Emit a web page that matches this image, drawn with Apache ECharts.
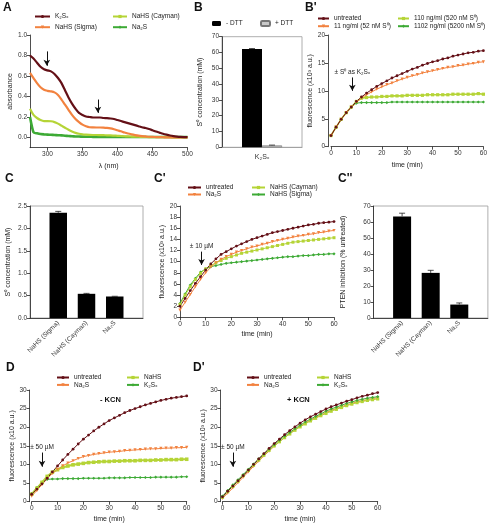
<!DOCTYPE html>
<html><head><meta charset="utf-8">
<script src="https://cdn.jsdelivr.net/npm/echarts@6/dist/echarts.min.js"></script>
<style>html,body{margin:0;padding:0;background:#fff}#c{width:490px;height:526px}</style>
</head><body><div id="c"></div>
<script>
// ---------- DATA ----------
// Panel A: absorbance spectra
const wavelengthNm = [275,280,285,290,295,300,305,310,315,320,325,330,335,340,345,350,355,360,365,370,375,380,385,390,395,400,405,410,415,420,425,430,435,440,445,450,455,460,465,470,475,480,485,490,495,500];
const absK2Sx = [0.80,0.77,0.73,0.69,0.665,0.655,0.645,0.62,0.58,0.53,0.46,0.39,0.33,0.28,0.24,0.22,0.205,0.20,0.195,0.195,0.195,0.19,0.188,0.185,0.18,0.17,0.16,0.15,0.14,0.13,0.12,0.11,0.10,0.092,0.082,0.07,0.058,0.047,0.036,0.027,0.019,0.013,0.009,0.006,0.004,0.003];
const absNaHSSigma = [0.63,0.58,0.53,0.49,0.465,0.455,0.45,0.44,0.415,0.37,0.32,0.27,0.22,0.18,0.15,0.125,0.11,0.10,0.098,0.097,0.097,0.096,0.093,0.088,0.08,0.07,0.06,0.048,0.038,0.03,0.023,0.017,0.013,0.01,0.007,0.005,0.004,0.003,0.002,0.001,0.001,0,0,0,0,0];
const absNaHSCayman = [0.28,0.22,0.19,0.17,0.16,0.16,0.158,0.15,0.135,0.115,0.095,0.075,0.058,0.045,0.036,0.03,0.027,0.025,0.024,0.024,0.023,0.022,0.021,0.02,0.018,0.016,0.014,0.012,0.01,0.009,0.008,0.007,0.006,0.005,0.004,0.004,0.003,0.003,0.002,0.002,0.002,0.001,0.001,0.001,0.001,0.001];
const absNa2S = [0.20,0.05,0.04,0.033,0.03,0.028,0.026,0.024,0.022,0.02,0.017,0.014,0.012,0.01,0.009,0.008,0.007,0.007,0.006,0.006,0.006,0.005,0.005,0.005,0.005,0.005,0.005,0.005,0.005,0.005,0.005,0.005,0.005,0.005,0.005,0.005,0.005,0.005,0.005,0.005,0.005,0.005,0.005,0.005,0.005,0.005];

// Panel B: S0 concentration
const bCategories = ['K₂Sₓ'];
const bMinusDTT = [62.2];
const bMinusDTTErr = [0.3];
const bPlusDTT = [1.2];
const bPlusDTTErr = [0.2];

// Time axis for kinetic panels
const timeMin = [0,2,4,6,8,10,12,14,16,18,20,22,24,26,28,30,32,34,36,38,40,42,44,46,48,50,52,54,56,58,60];

// Panel B'
const bpUntreated = [2.0,3.5,4.9,6.1,7.1,8.1,8.9,9.6,10.2,10.8,11.3,11.8,12.3,12.7,13.1,13.5,13.9,14.2,14.6,14.9,15.2,15.4,15.7,15.9,16.2,16.4,16.6,16.8,16.9,17.1,17.2];
const bp11 = [2.0,3.5,4.9,6.1,7.1,8.0,8.7,9.3,9.8,10.3,10.7,11.1,11.4,11.8,12.1,12.4,12.7,12.9,13.2,13.4,13.6,13.8,14.0,14.2,14.3,14.5,14.6,14.8,14.9,15.1,15.2];
const bp110 = [2.0,3.5,4.9,6.1,7.1,8.1,8.7,8.8,8.9,8.9,9.0,9.0,9.1,9.1,9.1,9.2,9.2,9.2,9.2,9.3,9.3,9.3,9.3,9.3,9.4,9.4,9.4,9.4,9.4,9.5,9.4];
const bp1102 = [2.0,3.5,4.9,6.1,7.1,7.8,7.9,7.9,7.9,7.9,7.9,7.9,8.0,8.0,8.0,8.0,8.0,8.0,8.0,8.0,8.0,8.0,8.0,8.0,8.0,8.0,8.0,8.0,8.0,8.0,8.0];

// Panel C
const cCategories = ['NaHS (Sigma)','NaHS (Cayman)','Na₂S'];
const cValues = [2.35,0.54,0.48];
const cErrors = [0.03,0.01,0.005];

// Panel C'
const cpUntreated = [2.0,3.4,4.8,6.1,7.3,8.5,9.6,10.5,11.3,11.8,12.3,12.8,13.2,13.6,14.0,14.3,14.6,14.9,15.2,15.4,15.6,15.8,16.0,16.2,16.4,16.6,16.7,16.9,17.0,17.1,17.2];
const cpNa2S = [1.3,2.7,4.1,5.5,6.8,8.0,9.0,9.8,10.4,10.9,11.3,11.7,12.0,12.3,12.6,12.8,13.1,13.3,13.6,13.8,14.0,14.2,14.4,14.6,14.7,14.9,15.0,15.2,15.3,15.5,15.6];
const cpCayman = [2.3,4.0,5.5,6.8,7.9,8.7,9.3,9.8,10.2,10.6,10.9,11.2,11.5,11.7,11.9,12.1,12.3,12.5,12.7,12.9,13.1,13.3,13.5,13.6,13.7,13.8,13.9,14.0,14.1,14.2,14.3];
const cpSigma = [2.5,4.2,5.8,7.0,8.1,8.7,9.1,9.3,9.5,9.7,9.8,9.9,10.0,10.1,10.2,10.3,10.4,10.5,10.6,10.7,10.8,10.9,10.9,11.0,11.1,11.1,11.2,11.3,11.3,11.4,11.4];

// Panel C''
const c2Values = [63.5,28.2,8.4];
const c2Errors = [2.0,1.6,1.0];

// Panel D (- KCN)
const dUntreated = [2.0,3.4,4.8,6.3,8.0,9.6,11.2,12.7,14.1,15.5,16.8,17.9,19.0,20.0,20.9,21.8,22.5,23.2,23.9,24.5,25.0,25.5,26.0,26.4,26.8,27.2,27.5,27.8,28.0,28.2,28.4];
const dNa2S = [1.5,3.0,4.6,6.2,7.6,8.7,9.6,10.4,11.0,11.6,12.1,12.4,12.7,12.9,13.1,13.3,13.4,13.5,13.7,13.8,13.9,14.0,14.1,14.2,14.2,14.3,14.4,14.4,14.5,14.5,14.6];
const dNaHS = [2.0,3.6,5.2,6.8,7.9,8.6,9.2,9.6,9.9,10.1,10.3,10.5,10.6,10.7,10.8,10.8,10.9,10.9,11.0,11.0,11.0,11.1,11.1,11.1,11.2,11.2,11.3,11.3,11.3,11.4,11.4];
const dK2Sx = [2.2,3.8,5.2,6.0,6.1,6.1,6.2,6.2,6.2,6.2,6.3,6.3,6.3,6.3,6.3,6.4,6.4,6.4,6.4,6.5,6.5,6.5,6.5,6.5,6.6,6.6,6.6,6.6,6.6,6.7,6.7];

// Panel D' (+ KCN)
const dpUntreated = [1.3,2.8,4.2,5.6,7.0,8.5,10.0,11.5,12.9,14.3,15.6,16.8,18.0,19.1,20.1,21.1,22.0,22.8,23.5,24.2,24.9,25.5,26.0,26.5,27.0,27.4,27.9,28.3,28.6,29.0,29.3];
const dpNa2S = [0.9,2.3,3.7,5.1,6.6,8.0,9.5,10.9,12.3,13.6,14.9,16.1,17.2,18.3,19.3,20.2,21.1,21.9,22.6,23.3,23.9,24.5,25.0,25.5,26.0,26.4,26.8,27.1,27.4,27.7,27.9];
const dpNaHS = [1.2,2.7,4.1,5.5,7.0,8.4,9.8,11.2,12.5,13.8,15.0,16.1,17.2,18.2,19.2,20.1,20.9,21.7,22.4,23.1,23.7,24.3,24.8,25.3,25.8,26.2,26.6,26.9,27.2,27.4,27.6];
const dpK2Sx = [1.5,3.0,4.5,5.9,7.3,8.7,10.1,11.5,12.8,14.1,15.3,16.5,17.6,18.6,19.6,20.5,21.4,22.2,22.9,23.6,24.3,24.9,25.4,25.9,26.4,26.8,27.2,27.5,27.8,28.0,28.2];

// ---------- STYLE ----------
const FONT = '"Liberation Sans", Arial, Helvetica, sans-serif';
const DARK = '#641017', ORANGE = '#f2823f', LIME = '#b5d436', GREEN = '#3daa35';

function merge(a, b) {
  const o = Object.assign({}, a);
  for (const k in b) {
    if (b[k] && typeof b[k] === 'object' && !Array.isArray(b[k]) && o[k] && typeof o[k] === 'object' && !Array.isArray(o[k])) o[k] = merge(o[k], b[k]);
    else o[k] = b[k];
  }
  return o;
}
function axis(gi, extra) {
  return merge({
    gridIndex: gi,
    axisLine: {show: true, onZero: false, lineStyle: {color: '#222', width: 0.8}},
    axisTick: {show: true, length: 3, lineStyle: {color: '#222', width: 0.8}},
    axisLabel: {fontSize: 6.5, color: '#333', fontFamily: FONT, margin: 3},
    splitLine: {show: false},
    nameLocation: 'middle',
    nameTextStyle: {fontSize: 7, color: '#222', fontFamily: FONT}
  }, extra);
}
function ln(name, gi, xs, ys, color, symbol, extra) {
  return merge({
    type: 'line', name: name, xAxisIndex: gi, yAxisIndex: gi,
    data: xs.map((x, i) => [x, ys[i]]),
    symbol: symbol, symbolSize: 2.8, showSymbol: true,
    lineStyle: {color: color, width: 1}, itemStyle: {color: color},
    color: color, silent: true
  }, extra || {});
}
function arrowML(x, y1, y2, text) {
  return {
    silent: true, symbol: ['none', 'arrow'], symbolSize: [5, 6],
    lineStyle: {color: '#111', width: 1, type: 'solid'},
    label: text ? {show: true, position: 'start', formatter: text, fontSize: 6.5, color: '#222', fontFamily: FONT, distance: 2} : {show: false},
    emphasis: {disabled: true},
    data: [[{coord: [x, y1]}, {coord: [x, y2]}]]
  };
}
function errBars(gi, xs, vals, errs, offsetFrac) {
  return {
    type: 'custom', xAxisIndex: gi, yAxisIndex: gi, z: 10, silent: true,
    data: vals.map((v, i) => [xs[i], v, errs[i]]),
    renderItem: function (params, api) {
      const x = api.value(0), v = api.value(1), e = api.value(2);
      const bw = api.size([1, 0])[0];
      const off = (offsetFrac || 0) * bw;
      const t = api.coord([x, v + e]), b = api.coord([x, v]);
      const cx = t[0] + off;
      return {type: 'group', children: [
        {type: 'line', shape: {x1: cx, y1: t[1], x2: cx, y2: b[1]}, style: {stroke: '#222', lineWidth: 0.8}},
        {type: 'line', shape: {x1: cx - 3, y1: t[1], x2: cx + 3, y2: t[1]}, style: {stroke: '#222', lineWidth: 0.8}}
      ]};
    }
  };
}
function legend(left, top, names, itemWidth, gap) {
  return {
    orient: 'vertical', left: left, top: top, padding: 0, itemGap: gap,
    itemWidth: itemWidth, itemHeight: 4, data: names, selectedMode: false,
    formatter: n => n.split('|')[1],
    textStyle: {fontSize: 6.5, color: '#222', fontFamily: FONT}
  };
}
const pad = arr => [''].concat(arr).concat(['']);
const padV = arr => ['-'].concat(arr).concat(['-']);
const boxGrid = {show: true, backgroundColor: 'transparent', borderColor: '#9a9a9a', borderWidth: 0.8};
const tri = {symbolRotate: 180, symbolSize: 3.2};

const option = {
  animation: false,
  textStyle: {fontFamily: FONT},
  title: [
    ['A', 3, 2], ['B', 194, 2], ["B'", 305, 2], ['C', 5, 173], ["C'", 154, 173], ["C''", 338, 173], ['D', 6, 362], ["D'", 193, 362]
  ].map(t => ({text: t[0], left: t[1], top: t[2], padding: 0, textStyle: {fontSize: 12, fontWeight: 'bold', color: '#111', fontFamily: FONT}}))
   .concat([
    {text: '- KCN', left: 100, top: 396, padding: 0, textStyle: {fontSize: 7.5, fontWeight: 'bold', color: '#111', fontFamily: FONT}},
    {text: '+ KCN', left: 287, top: 396, padding: 0, textStyle: {fontSize: 7.5, fontWeight: 'bold', color: '#111', fontFamily: FONT}}
  ]),
  grid: [
    {left: 30, top: 35, width: 157.5, height: 112.7},
    merge(boxGrid, {left: 222, top: 36.7, width: 80, height: 110.6}),
    {left: 331, top: 35, width: 154, height: 111.7},
    merge(boxGrid, {left: 30, top: 206, width: 113, height: 112}),
    {left: 180, top: 206, width: 154, height: 111.3},
    merge(boxGrid, {left: 373.5, top: 206, width: 115, height: 112}),
    {left: 31.7, top: 390, width: 155, height: 111.7},
    {left: 222.5, top: 390, width: 155.2, height: 111.7}
  ],
  xAxis: [
    axis(0, {type: 'value', min: 275, max: 500, name: 'λ (nm)', nameGap: 15,
      axisLabel: {customValues: [300, 350, 400, 450, 500]}, axisTick: {customValues: [300, 350, 400, 450, 500]}}),
    axis(1, {type: 'category', data: bCategories, axisTick: {show: false}, axisLine: {lineStyle: {color: '#9a9a9a'}}, axisLabel: {margin: 6, fontSize: 7}}),
    axis(2, {type: 'value', min: 0, max: 60, interval: 10, name: 'time (min)', nameGap: 15}),
    axis(3, {type: 'category', data: pad(cCategories), boundaryGap: false, axisTick: {show: false}, axisLabel: {rotate: 45, interval: 0, margin: 4}}),
    axis(4, {type: 'value', min: 0, max: 60, interval: 10, name: 'time (min)', nameGap: 13}),
    axis(5, {type: 'category', data: pad(cCategories), boundaryGap: false, axisTick: {show: false}, axisLabel: {rotate: 45, interval: 0, margin: 4}}),
    axis(6, {type: 'value', min: 0, max: 60, interval: 10, name: 'time (min)', nameGap: 14}),
    axis(7, {type: 'value', min: 0, max: 60, interval: 10, name: 'time (min)', nameGap: 14})
  ],
  yAxis: [
    axis(0, {type: 'value', min: -0.1, max: 1.0, name: 'absorbance', nameGap: 16,
      axisLabel: {customValues: [0, 0.2, 0.4, 0.6, 0.8, 1.0], formatter: v => v.toFixed(1)}, axisTick: {customValues: [0, 0.2, 0.4, 0.6, 0.8, 1.0]}}),
    axis(1, {type: 'value', min: 0, max: 70, interval: 10, name: 'S⁰ concentration (mM)', nameGap: 18}),
    axis(2, {type: 'value', min: 0, max: 20, interval: 5, offset: 3, name: 'fluorescence (x10³ a.u.)', nameGap: 11}),
    axis(3, {type: 'value', min: 0, max: 2.5, interval: 0.5, name: 'S⁰ concentration (mM)', nameGap: 18, axisLabel: {formatter: v => v.toFixed(1)}}),
    axis(4, {type: 'value', min: 0, max: 20, interval: 2, name: 'fluorescence (x10³ a.u.)', nameGap: 13}),
    axis(5, {type: 'value', min: 0, max: 70, interval: 10, name: 'PTEN inhibition (% untreated)', nameGap: 27}),
    axis(6, {type: 'value', min: 0, max: 30, interval: 5, offset: 2, name: 'fluorescence (x10 a.u.)', nameGap: 14}),
    axis(7, {type: 'value', min: 0, max: 30, interval: 5, offset: 2, name: 'fluorescence (x10³ a.u.)', nameGap: 10})
  ],
  legend: [
    legend(34, 13, ['A|K₂Sₓ', 'A|NaHS (Sigma)'], 15, 3.7),
    legend(112, 13, ['A|NaHS (Cayman)', 'A|Na₂S'], 14, 3.7),
    {orient: 'horizontal', left: 212, top: 20, padding: 0, itemWidth: 9, itemHeight: 5, data: ['- DTT'], selectedMode: false, textStyle: {fontSize: 6.5, color: '#222', fontFamily: FONT}},
    {orient: 'horizontal', left: 260, top: 20, padding: 0, itemWidth: 9, itemHeight: 5, data: ['+ DTT'], selectedMode: false, textStyle: {fontSize: 6.5, color: '#222', fontFamily: FONT}},
    legend(317, 15, ['Bp|untreated', 'Bp|11 ng/ml (52 nM S⁰)'], 11, 0.7),
    legend(397, 15, ['Bp|110 ng/ml (520 nM S⁰)', 'Bp|1102 ng/ml (5200 nM S⁰)'], 11, 0.7),
    legend(187, 184, ['Cp|untreated', 'Cp|Na₂S'], 13, 0),
    legend(251, 184, ['Cp|NaHS (Cayman)', 'Cp|NaHS (Sigma)'], 13, 0),
    legend(56, 374, ['D|untreated', 'D|Na₂S'], 12, 0.4),
    legend(126, 374, ['D|NaHS', 'D|K₂Sₓ'], 12, 0.4),
    legend(246, 374, ['Dp|untreated', 'Dp|Na₂S'], 12, 0.4),
    legend(316, 374, ['Dp|NaHS', 'Dp|K₂Sₓ'], 12, 0.4)
  ],
  series: [
    // A
    ln('A|Na₂S', 0, wavelengthNm, absNa2S, GREEN, 'diamond', {showSymbol: false, smooth: 0.2, lineStyle: {width: 2.6}}),
    ln('A|NaHS (Cayman)', 0, wavelengthNm, absNaHSCayman, LIME, 'rect', {showSymbol: false, smooth: 0.3, lineStyle: {width: 2.2}}),
    ln('A|NaHS (Sigma)', 0, wavelengthNm, absNaHSSigma, ORANGE, 'triangle', {showSymbol: false, smooth: 0.3, symbolRotate: 180, lineStyle: {width: 2.2}}),
    ln('A|K₂Sₓ', 0, wavelengthNm, absK2Sx, DARK, 'circle', {showSymbol: false, smooth: 0.3, lineStyle: {width: 2.2},
      markLine: {silent: true, symbol: ['none', 'arrow'], symbolSize: [5, 6], lineStyle: {color: '#111', width: 1, type: 'solid'}, label: {show: false}, emphasis: {disabled: true},
        data: [[{coord: [299, 0.84]}, {coord: [299, 0.70]}], [{coord: [372, 0.37]}, {coord: [372, 0.24]}]]}}),
    // B
    {type: 'bar', name: '- DTT', xAxisIndex: 1, yAxisIndex: 1, data: bMinusDTT, barWidth: 20, barGap: '0%', itemStyle: {color: '#000'}, color: '#000', silent: true},
    {type: 'bar', name: '+ DTT', xAxisIndex: 1, yAxisIndex: 1, data: bPlusDTT, barWidth: 20, barGap: '0%', itemStyle: {color: '#c9c9c9', borderColor: '#777', borderWidth: 0.6}, color: '#c9c9c9', silent: true},
    errBars(1, [0], bMinusDTT, bMinusDTTErr, -0.125),
    errBars(1, [0], bPlusDTT, bPlusDTTErr, 0.125),
    // B'
    ln('Bp|1102 ng/ml (5200 nM S⁰)', 2, timeMin, bp1102, GREEN, 'diamond', {symbolSize: 3.2}),
    ln('Bp|110 ng/ml (520 nM S⁰)', 2, timeMin, bp110, LIME, 'rect', {symbolSize: 3.2, lineStyle: {width: 1.6}}),
    ln('Bp|11 ng/ml (52 nM S⁰)', 2, timeMin, bp11, ORANGE, 'triangle', tri),
    ln('Bp|untreated', 2, timeMin, bpUntreated, DARK, 'circle', {markLine: arrowML(8.4, 12.4, 10.0, '± S⁰ as K₂Sₓ')}),
    // C
    {type: 'bar', xAxisIndex: 3, yAxisIndex: 3, data: padV(cValues), barWidth: 17.5, itemStyle: {color: '#000'}, silent: true},
    errBars(3, [1, 2, 3], cValues, cErrors, 0),
    // C'
    ln('Cp|NaHS (Sigma)', 4, timeMin, cpSigma, GREEN, 'diamond', {symbolSize: 3.2}),
    ln('Cp|NaHS (Cayman)', 4, timeMin, cpCayman, LIME, 'rect', {symbolSize: 3}),
    ln('Cp|Na₂S', 4, timeMin, cpNa2S, ORANGE, 'triangle', tri),
    ln('Cp|untreated', 4, timeMin, cpUntreated, DARK, 'circle', {markLine: arrowML(8.4, 11.8, 9.4, '± 10 µM')}),
    // C''
    {type: 'bar', xAxisIndex: 5, yAxisIndex: 5, data: padV(c2Values), barWidth: 18, itemStyle: {color: '#000'}, silent: true},
    errBars(5, [1, 2, 3], c2Values, c2Errors, 0),
    // D
    ln('D|K₂Sₓ', 6, timeMin, dK2Sx, GREEN, 'diamond', {symbolSize: 3.2}),
    ln('D|NaHS', 6, timeMin, dNaHS, LIME, 'rect', {symbolSize: 3.6, lineStyle: {width: 2}}),
    ln('D|Na₂S', 6, timeMin, dNa2S, ORANGE, 'triangle', tri),
    ln('D|untreated', 6, timeMin, dUntreated, DARK, 'circle', {markLine: arrowML(4, 13.2, 9.4, '± 50 µM')}),
    // D'
    ln('Dp|Na₂S', 7, timeMin, dpNa2S, ORANGE, 'triangle', tri),
    ln('Dp|NaHS', 7, timeMin, dpNaHS, LIME, 'rect', {symbolSize: 3.2}),
    ln('Dp|K₂Sₓ', 7, timeMin, dpK2Sx, GREEN, 'diamond', {symbolSize: 3.2}),
    ln('Dp|untreated', 7, timeMin, dpUntreated, DARK, 'circle', {markLine: arrowML(4, 13.2, 9.4, '± 50 µM')})
  ]
};
const chart = echarts.init(document.getElementById('c'), null, {renderer: 'canvas'});
chart.setOption(option);
</script></body></html>
